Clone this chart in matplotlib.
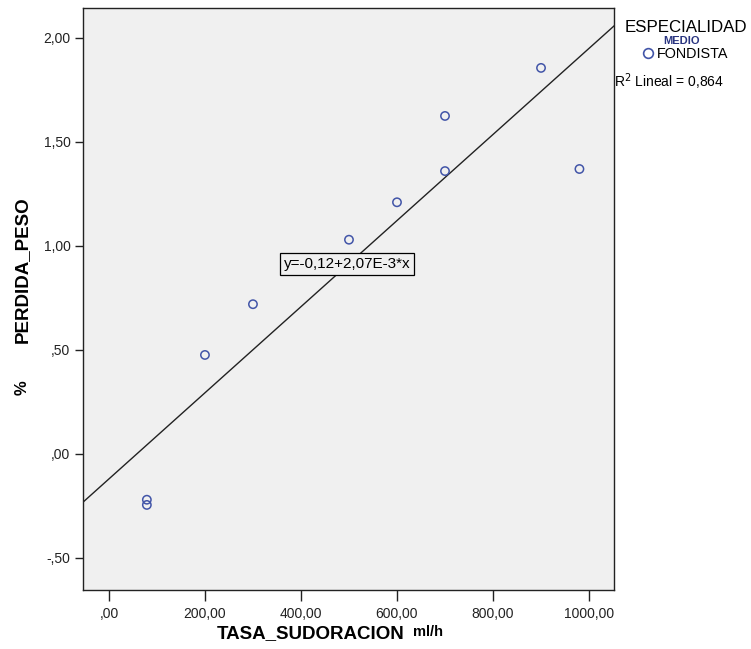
import numpy as np
import matplotlib.pyplot as plt
from matplotlib.ticker import FuncFormatter

plt.rcParams['font.family'] = ['Liberation Sans', 'DejaVu Sans']

# datos
tasa = [79, 79, 200, 300, 500, 600, 700, 700, 900, 980]
perdida = [-0.22, -0.245, 0.476, 0.72, 1.03, 1.21, 1.625, 1.36, 1.856, 1.37]
intercepto = -0.12
pendiente = 2.07e-3
r2 = 0.864

fig = plt.figure(figsize=(7.51, 6.49), dpi=100)
ax = fig.add_axes([83/751, 59/649, 531/751, 582/649])
ax.set_facecolor('#f0f0f0')

ax.scatter(tasa, perdida, s=36, facecolors='none', edgecolors='#4255a8', linewidths=1.1, zorder=3)

xlim = (-54, 1052)
ax.set_xlim(xlim)
ax.set_ylim(-0.654, 2.144)
xl = np.array(xlim)
ax.plot(xl, intercepto + pendiente * xl, color='#222222', lw=1.0, zorder=2)

ax.text(496, 0.913, "y=-0,12+2,07E-3*x", ha='center', va='center', fontsize=11,
        bbox=dict(boxstyle='square,pad=0.25', fc='#f0f0f0', ec='black', lw=0.9), zorder=4)

ax.set_xticks([0, 200, 400, 600, 800, 1000])
ax.set_yticks([-0.5, 0, 0.5, 1.0, 1.5, 2.0])

def fmt(v, pos):
    s = f"{v:.2f}".replace('.', ',')
    if s.startswith('0,'):
        s = s[1:]
    elif s.startswith('-0,'):
        s = '-' + s[2:]
    return s

ax.xaxis.set_major_formatter(FuncFormatter(fmt))
ax.yaxis.set_major_formatter(FuncFormatter(fmt))
ax.tick_params(axis='x', direction='out', length=8, width=1, labelsize=10, pad=4, colors='#222222')
ax.tick_params(axis='y', direction='out', length=6, width=1, labelsize=10, pad=3, colors='#222222')
for sp in ax.spines.values():
    sp.set_color('#222222')
    sp.set_linewidth(1.0)

# etiquetas de ejes
fig.text(22/751, 1 - 270/649, "PERDIDA_PESO", fontsize=13.5, fontweight='bold', rotation=90,
         ha='center', va='center')
fig.text(22/751, 1 - 388/649, "%", fontsize=12, fontweight='bold', rotation=90,
         ha='center', va='center')
fig.text(311/751, 1 - 634/649, "TASA_SUDORACION", fontsize=13.5, fontweight='bold', ha='center', va='center')
fig.text(413/751, 1 - 632/649, "ml/h", fontsize=10.5, fontweight='bold', ha='left', va='center')

# leyenda exterior
fig.text(686/751, 1 - 28/649, "ESPECIALIDAD", fontsize=12.2, ha='center', va='center')
fig.text(682/751, 1 - 41/649, "MEDIO", fontsize=8, fontweight='bold', color='#2a3580', ha='center', va='center')
fig.add_artist(plt.Line2D([648/751], [1 - 53/649], marker='o', markersize=7, mfc='none',
                          mec='#4255a8', mew=1.2, transform=fig.transFigure))
fig.text(657/751, 1 - 54/649, "FONDISTA", fontsize=10.4, ha='left', va='center')
fig.text(614/751, 1 - 82/649, "R$^2$ Lineal = 0,864", fontsize=10, ha='left', va='center')

fig.savefig('out.png', dpi=100)
